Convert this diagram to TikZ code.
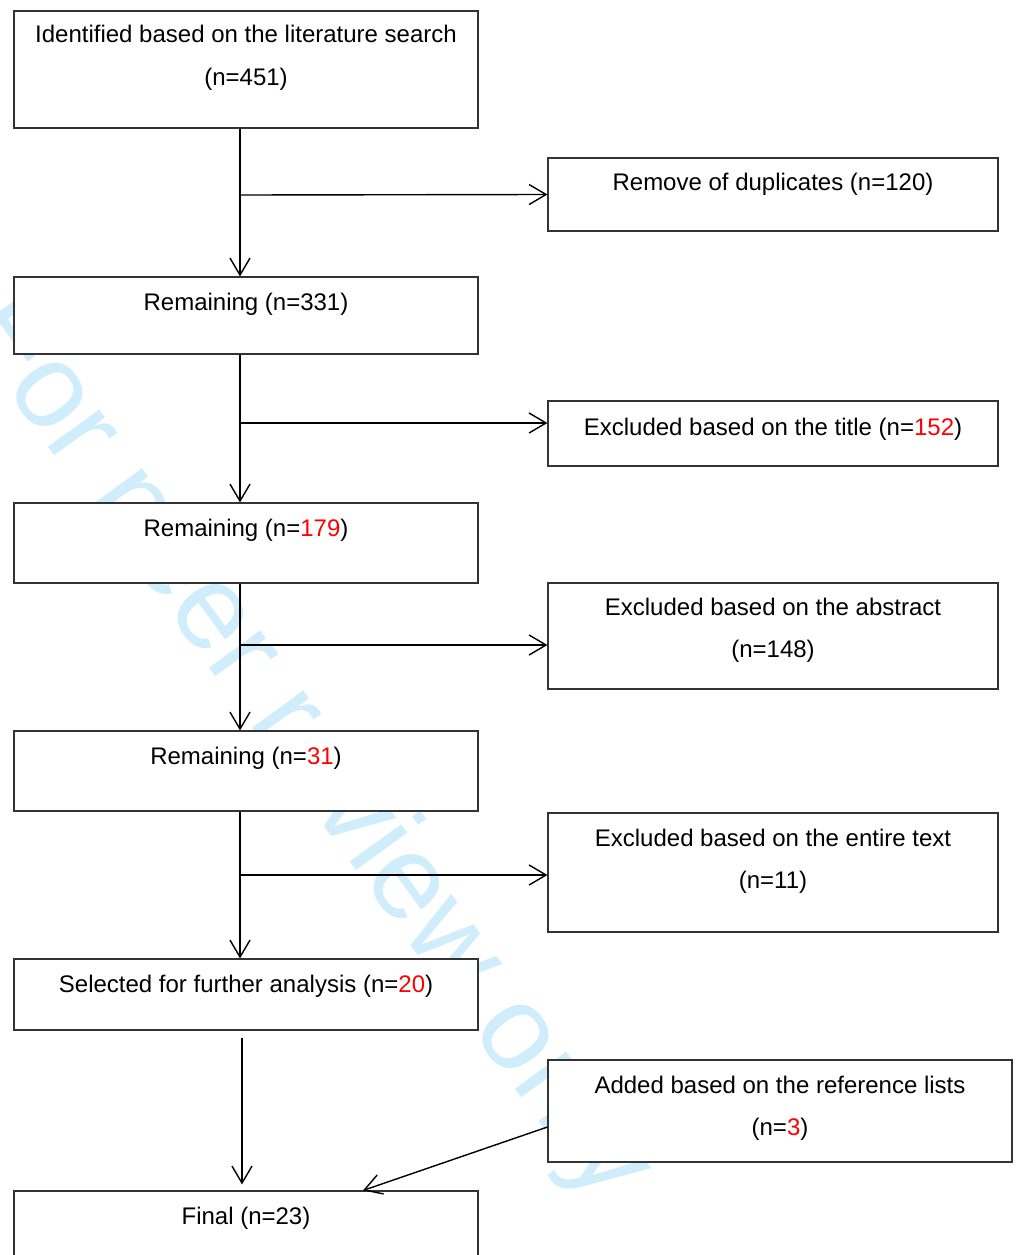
\documentclass[tikz,border=0pt]{standalone}
\usepackage{fontspec}
\setmainfont{Liberation Sans}
\usetikzlibrary{arrows.meta}
\definecolor{wm}{RGB}{207,237,251}
\begin{document}
\begin{tikzpicture}[x=1pt,y=-1pt,
 box/.style={draw=black!80, line width=1.1pt, fill=white, inner sep=0pt},
 lbl/.style={anchor=base, inner sep=0pt, font=\fontsize{24}{28}\selectfont},
 conn/.style={line width=1.4pt, -{Straight Barb[length=17pt,width=20pt,line width=1.4pt]}}
]
\useasboundingbox (0,0) rectangle (1019,1255);
\clip (0,0) rectangle (1019,1255);
% watermark
\node[anchor=base, rotate=-54, text=wm, inner sep=0pt, font=\fontsize{120}{120}\selectfont] (wmk) at (281,767) {For peer review only};
% boxes
\node[box, minimum width=464pt, minimum height=117pt] (b1) at (246,69.5) {};
\node[box, minimum width=450pt, minimum height=73pt] (b2) at (773,194.5) {};
\node[box, minimum width=464pt, minimum height=77pt] (b3) at (246,315.5) {};
\node[box, minimum width=450pt, minimum height=65pt] (b4) at (773,433.5) {};
\node[box, minimum width=464pt, minimum height=80pt] (b5) at (246,543) {};
\node[box, minimum width=450pt, minimum height=106pt] (b6) at (773,636) {};
\node[box, minimum width=464pt, minimum height=80pt] (b7) at (246,771) {};
\node[box, minimum width=450pt, minimum height=119pt] (b8) at (773,872.5) {};
\node[box, minimum width=464pt, minimum height=71pt] (b9) at (246,994.5) {};
\node[box, minimum width=464pt, minimum height=102pt] (b10) at (780,1111) {};
\node[box, minimum width=464pt, minimum height=84pt] (b11) at (246,1233) {};
% texts
\node[lbl] (t1a) at (246,43) {Identified based on the literature search};
\node[lbl] (t1b) at (246,85) {(n=451)};
\node[lbl] (t2) at (773,190) {Remove of duplicates (n=120)};
\node[lbl] (t3) at (246,310) {Remaining (n=331)};
\node[lbl] (t4) at (773,435) {Excluded based on the title (n=\textcolor{red}{152})};
\node[lbl] (t5) at (246,536) {Remaining (n=\textcolor{red}{179})};
\node[lbl] (t6a) at (773,615) {Excluded based on the abstract};
\node[lbl] (t6b) at (773,657) {(n=148)};
\node[lbl] (t7) at (246,764) {Remaining (n=\textcolor{red}{31})};
\node[lbl] (t8a) at (773,846) {Excluded based on the entire text};
\node[lbl] (t8b) at (773,888) {(n=11)};
\node[lbl] (t9) at (246,992) {Selected for further analysis (n=\textcolor{red}{20})};
\node[lbl] (t10a) at (780,1093) {Added based on the reference lists};
\node[lbl] (t10b) at (780,1135) {(n=\textcolor{red}{3})};
\node[lbl] (t11) at (246,1224) {Final (n=23)};
% junctions
\coordinate (j1) at (240,195);
\coordinate (j2) at (240,423);
\coordinate (j3) at (240,645);
\coordinate (j4) at (240,875);
% connectors
\draw[conn] ([xshift=-6pt]b1.south) -- ([xshift=-6pt]b3.north);
\draw[conn] ([xshift=-6pt]b3.south) -- ([xshift=-6pt]b5.north);
\draw[conn] ([xshift=-6pt]b5.south) -- ([xshift=-6pt]b7.north);
\draw[conn] ([xshift=-6pt]b7.south) -- ([xshift=-6pt]b9.north);
\draw[conn] (j1) -- (b2.west);
\draw[conn] (j2) -- ([yshift=10.5pt]b4.west);
\draw[conn] (j3) -- ([yshift=-9pt]b6.west);
\draw[conn] (j4) -- ([yshift=-2.5pt]b8.west);
\draw[conn] ([xshift=-4pt,yshift=-7pt]b9.south) -- ([xshift=-4pt,yshift=6pt]b11.north);
\draw[conn] ([yshift=-16pt]b10.west) -- ([xshift=117pt]b11.north);
\end{tikzpicture}
\end{document}
